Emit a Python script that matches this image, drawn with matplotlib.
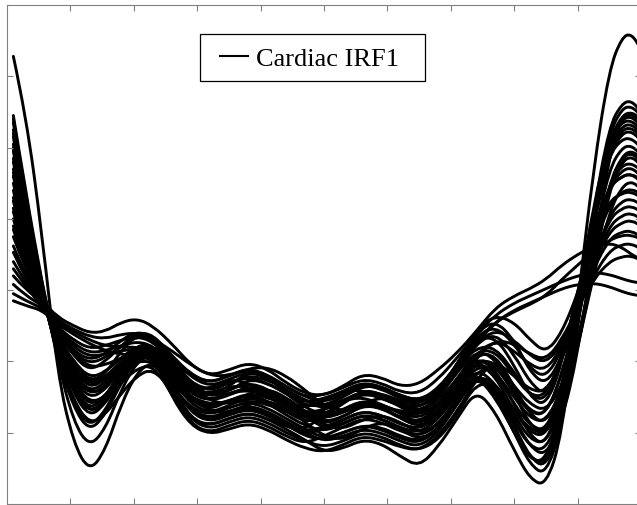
import matplotlib
matplotlib.use("Agg")
import matplotlib.pyplot as plt
from matplotlib.lines import Line2D
from matplotlib.patches import Rectangle, PathPatch
from matplotlib.path import Path

# shared abscissa (arbitrary units, 0..10 across the axes)
x_grid = [0.1, 0.3, 0.55, 0.8, 1.05, 1.3, 1.55, 1.8, 2.05, 2.3,
          2.6, 2.9, 3.2, 3.5, 3.8, 4.1, 4.4, 4.7, 5.0, 5.3, 5.6, 5.9, 6.2, 6.5, 6.8, 7.1,
          7.4, 7.7, 8.0, 8.25, 8.5, 8.75, 9.0, 9.25, 9.5, 9.7, 9.85, 10.0]

irf_00 = [3.28, 2.45, 0.8, -1.2, -2.15, -2.55, -2.25, -1.6, -1.15, -1.0,
          -1.35, -1.8, -1.9, -1.8, -1.72, -1.8, -1.95, -2.1, -2.27, -2.22, -2.1, -2.15, -2.33, -2.48, -2.2, -1.8,
          -1.4, -1.7, -2.25, -2.65, -2.75, -2.05, -0.2, 1.7, 3.1, 3.55, 3.6, 3.38]
irf_01 = [2.45, 1.35, 0.12, -1.0, -1.85, -2.2, -1.95, -1.4, -1.0, -0.9,
          -1.3, -1.7, -1.8, -1.7, -1.62, -1.7, -1.85, -2.0, -2.12, -2.05, -1.95, -2.0, -2.12, -2.2, -2.0, -1.6,
          -1.2, -1.45, -2.0, -2.45, -2.6, -1.9, -0.5, 1.1, 2.3, 2.62, 2.66, 2.5]
irf_02 = [2.35, 1.25, 0.02, -0.95, -1.65, -1.98, -1.75, -1.3, -0.95, -0.88,
          -1.1, -1.35, -1.55, -1.6, -1.45, -1.38, -1.5, -1.7, -1.9, -1.95, -1.82, -1.75, -1.85, -2.0, -1.9, -1.55,
          -1.15, -1.4, -1.9, -2.35, -2.5, -1.85, -0.55, 1.0, 2.2, 2.55, 2.58, 2.45]
irf_03 = [2.25, 1.15, -0.03, -0.9, -1.55, -1.88, -1.75, -1.45, -1.2, -1.1,
          -1.4, -1.82, -1.95, -1.85, -1.77, -1.85, -2.0, -2.12, -2.2, -2.12, -2.0, -2.05, -2.18, -2.25, -2.1, -1.75,
          -1.3, -1.35, -1.8, -2.2, -2.33, -1.85, -0.9, 0.5, 1.9, 2.42, 2.48, 2.35]
irf_04 = [2.15, 1.1, -0.03, -0.85, -1.45, -1.78, -1.6, -1.2, -0.9, -0.82,
          -1.1, -1.38, -1.5, -1.4, -1.3, -1.38, -1.55, -1.7, -1.8, -1.72, -1.6, -1.65, -1.78, -1.85, -1.65, -1.3,
          -0.95, -1.1, -1.6, -2.05, -2.18, -1.5, -0.15, 1.2, 2.1, 2.36, 2.38, 2.25]
irf_05 = [2.05, 1.0, -0.08, -0.85, -1.35, -1.62, -1.5, -1.15, -0.9, -0.85,
          -1.35, -1.65, -1.75, -1.65, -1.57, -1.65, -1.8, -1.95, -2.08, -2.0, -1.9, -1.95, -2.08, -2.15, -1.95, -1.55,
          -1.2, -1.5, -2.0, -2.38, -2.4, -1.65, -0.4, 0.9, 1.9, 2.2, 2.23, 2.1]
irf_06 = [1.95, 0.95, -0.03, -0.8, -1.4, -1.72, -1.55, -1.15, -0.85, -0.78,
          -0.95, -1.3, -1.5, -1.35, -1.15, -1.2, -1.45, -1.65, -1.75, -1.6, -1.4, -1.45, -1.65, -1.75, -1.5, -1.15,
          -0.85, -0.95, -1.45, -1.9, -2.03, -1.4, -0.1, 1.1, 1.9, 2.12, 2.13, 2.0]
irf_07 = [1.85, 0.9, -0.08, -0.75, -1.25, -1.52, -1.4, -1.1, -0.85, -0.8,
          -1.3, -1.55, -1.65, -1.55, -1.47, -1.55, -1.7, -1.85, -1.8, -1.67, -1.55, -1.6, -1.73, -1.8, -1.62, -1.3,
          -0.9, -0.9, -1.35, -1.75, -1.88, -1.4, -0.5, 0.7, 1.7, 2.0, 2.03, 1.9]
irf_08 = [1.7, 0.8, -0.08, -0.75, -1.2, -1.47, -1.35, -1.05, -0.8, -0.78,
          -1.15, -1.45, -1.55, -1.45, -1.37, -1.45, -1.6, -1.75, -1.95, -1.87, -1.75, -1.8, -1.93, -2.0, -1.82, -1.45,
          -1.1, -1.3, -1.75, -2.1, -2.15, -1.65, -0.85, 0.3, 1.4, 1.8, 1.88, 1.75]
irf_09 = [1.6, 0.75, -0.08, -0.8, -1.3, -1.58, -1.5, -1.3, -1.1, -1.05,
          -1.45, -1.88, -2.0, -1.9, -1.82, -1.9, -2.05, -2.15, -2.05, -1.92, -1.8, -1.85, -1.98, -2.05, -1.88, -1.55,
          -1.15, -1.05, -1.4, -1.7, -1.75, -1.2, -0.35, 0.65, 1.5, 1.75, 1.78, 1.68]
irf_10 = [1.5, 0.7, -0.13, -0.7, -1.1, -1.38, -1.25, -1.0, -0.78, -0.75,
          -1.15, -1.4, -1.38, -1.25, -1.3, -1.45, -1.6, -1.65, -1.55, -1.42, -1.4, -1.52, -1.62, -1.6, -1.4, -1.1,
          -0.7, -0.65, -1.05, -1.5, -1.63, -1.05, 0.0, 0.85, 1.45, 1.6, 1.63, 1.52]
irf_11 = [1.4, 0.6, -0.13, -0.68, -1.08, -1.33, -1.25, -1.1, -1.0, -1.0,
          -1.3, -1.72, -1.85, -1.75, -1.67, -1.75, -1.9, -2.02, -1.95, -1.82, -1.7, -1.75, -1.88, -1.95, -1.78, -1.45,
          -1.05, -1.15, -1.5, -1.8, -1.85, -1.4, -0.8, 0.2, 1.1, 1.45, 1.53, 1.42]
irf_12 = [1.25, 0.55, -0.13, -0.65, -1.02, -1.28, -1.18, -0.85, -0.62, -0.65,
          -0.95, -1.22, -1.35, -1.25, -1.15, -1.22, -1.4, -1.55, -1.67, -1.57, -1.45, -1.5, -1.63, -1.7, -1.52, -1.15,
          -0.75, -0.6, -0.9, -1.3, -1.48, -0.95, -0.05, 0.75, 1.25, 1.36, 1.38, 1.3]
irf_13 = [1.1, 0.45, -0.15, -0.65, -1.0, -1.23, -1.15, -0.95, -0.78, -0.8,
          -1.3, -1.5, -1.6, -1.58, -1.55, -1.6, -1.7, -1.78, -1.75, -1.68, -1.6, -1.62, -1.7, -1.72, -1.55, -1.25,
          -0.85, -0.85, -1.2, -1.48, -1.48, -1.0, -0.3, 0.4, 1.05, 1.25, 1.28, 1.2]
irf_14 = [1.0, 0.4, -0.15, -0.6, -0.92, -1.13, -1.0, -0.78, -0.6, -0.62,
          -0.92, -1.18, -1.3, -1.2, -1.1, -1.18, -1.35, -1.5, -1.57, -1.47, -1.33, -1.38, -1.52, -1.58, -1.4, -1.05,
          -0.6, -0.42, -0.7, -1.15, -1.33, -0.95, -0.25, 0.4, 1.0, 1.15, 1.18, 1.1]
irf_15 = [0.9, 0.35, -0.18, -0.62, -0.9, -1.08, -1.05, -0.95, -0.88, -0.92,
          -1.5, -1.9, -2.02, -1.95, -1.87, -1.95, -2.1, -2.22, -2.27, -2.17, -2.05, -2.1, -2.2, -2.25, -2.05, -1.7,
          -1.25, -1.0, -1.2, -1.4, -1.43, -1.0, -0.3, 0.35, 0.9, 1.05, 1.08, 1.0]
irf_16 = [0.75, 0.28, -0.18, -0.58, -0.85, -0.98, -0.9, -0.7, -0.58, -0.65,
          -1.1, -1.42, -1.55, -1.45, -1.37, -1.45, -1.58, -1.65, -1.55, -1.42, -1.3, -1.35, -1.48, -1.55, -1.38, -1.05,
          -0.65, -0.5, -0.75, -1.1, -1.23, -0.85, -0.2, 0.35, 0.82, 0.95, 0.98, 0.9]
irf_17 = [0.62, 0.2, -0.21, -0.6, -0.88, -1.03, -0.95, -0.78, -0.65, -0.68,
          -0.85, -1.05, -1.2, -1.2, -1.1, -1.08, -1.2, -1.4, -1.62, -1.7, -1.6, -1.5, -1.58, -1.72, -1.65, -1.3,
          -0.9, -0.7, -0.85, -1.05, -1.13, -0.8, -0.25, 0.3, 0.72, 0.82, 0.83, 0.75]
irf_18 = [0.53, 0.15, -0.21, -0.55, -0.8, -0.93, -0.9, -0.85, -0.82, -0.88,
          -1.45, -1.82, -1.9, -1.8, -1.72, -1.8, -1.92, -1.95, -1.75, -1.55, -1.42, -1.45, -1.58, -1.65, -1.48, -1.15,
          -0.75, -0.55, -0.7, -0.92, -1.03, -0.75, -0.25, 0.2, 0.55, 0.64, 0.65, 0.58]
irf_19 = [0.4, 0.1, -0.23, -0.55, -0.75, -0.88, -0.85, -0.78, -0.72, -0.78,
          -1.15, -1.45, -1.55, -1.45, -1.4, -1.48, -1.62, -1.75, -1.8, -1.7, -1.55, -1.62, -1.8, -1.92, -1.78, -1.4,
          -0.95, -0.7, -0.75, -0.9, -0.98, -0.7, -0.25, 0.15, 0.4, 0.47, 0.48, 0.42]
irf_20 = [0.3, 0.05, -0.23, -0.52, -0.7, -0.82, -0.78, -0.7, -0.65, -0.72,
          -1.0, -1.3, -1.4, -1.3, -1.22, -1.3, -1.45, -1.58, -1.52, -1.42, -1.3, -1.35, -1.48, -1.55, -1.4, -1.05,
          -0.55, -0.35, -0.45, -0.7, -0.88, -0.6, -0.05, 0.6, 1.2, 1.38, 1.42, 1.35]
irf_21 = [0.2, 0.0, -0.15, -0.38, -0.5, -0.6, -0.58, -0.45, -0.4, -0.5,
          -0.75, -1.05, -1.2, -1.12, -1.02, -1.1, -1.3, -1.45, -1.48, -1.35, -1.18, -1.22, -1.35, -1.32, -1.12, -0.88,
          -0.58, -0.25, -0.08, 0.02, 0.15, 0.35, 0.5, 0.62, 0.66, 0.6, 0.5, 0.43]
irf_22 = [0.08, -0.08, -0.21, -0.42, -0.55, -0.65, -0.68, -0.62, -0.6, -0.66,
          -0.95, -1.2, -1.3, -1.2, -1.12, -1.2, -1.35, -1.5, -1.47, -1.37, -1.25, -1.3, -1.43, -1.45, -1.25, -0.95,
          -0.62, -0.35, -0.18, -0.08, 0.02, 0.12, 0.2, 0.25, 0.22, 0.16, 0.12, 0.1]
irf_23 = [-0.05, -0.15, -0.25, -0.45, -0.58, -0.7, -0.78, -0.8, -0.8, -0.85,
          -1.1, -1.3, -1.5, -1.42, -1.25, -1.3, -1.45, -1.62, -1.62, -1.5, -1.35, -1.35, -1.5, -1.58, -1.4, -1.05,
          -0.72, -0.45, -0.28, -0.18, -0.08, 0.02, 0.08, 0.1, 0.05, -0.02, -0.06, -0.08]
irf_24 = [-0.15, -0.22, -0.28, -0.48, -0.62, -0.75, -0.85, -0.9, -0.92, -0.98,
          -1.25, -1.52, -1.62, -1.55, -1.47, -1.55, -1.7, -1.82, -1.67, -1.57, -1.45, -1.5, -1.63, -1.65, -1.45, -1.12,
          -0.75, -0.45, -0.3, -0.2, -0.08, 0.15, 0.35, 0.55, 0.7, 0.77, 0.77, 0.72]
irf_25 = [1.8, 0.85, -0.05, -0.8, -1.38, -1.68, -1.5, -1.12, -0.88, -0.85,
          -1.2, -1.55, -1.68, -1.55, -1.45, -1.5, -1.62, -1.78, -1.88, -1.78, -1.62, -1.6, -1.72, -1.88, -1.75, -1.35,
          -1.0, -1.15, -1.6, -1.9, -1.98, -1.4, -0.35, 0.9, 2.0, 2.3, 2.33, 2.2]
irf_26 = [1.3, 0.55, -0.11, -0.7, -1.15, -1.43, -1.3, -1.02, -0.82, -0.8,
          -1.38, -1.68, -1.8, -1.7, -1.62, -1.7, -1.85, -1.98, -1.92, -1.82, -1.7, -1.75, -1.88, -1.95, -1.78, -1.42,
          -1.0, -1.0, -1.35, -1.6, -1.7, -1.35, -0.75, 0.4, 1.45, 1.85, 1.93, 1.8]
irf_27 = [2.0, 0.98, -0.01, -0.9, -1.6, -1.92, -1.7, -1.25, -0.95, -0.9,
          -1.2, -1.5, -1.7, -1.72, -1.6, -1.55, -1.65, -1.85, -2.05, -2.1, -1.95, -1.85, -1.95, -2.1, -1.95, -1.6,
          -1.2, -1.35, -1.85, -2.2, -2.25, -1.7, -0.5, 0.95, 2.05, 2.4, 2.44, 2.3]
irf_28 = [1.65, 0.78, -0.05, -0.85, -1.42, -1.72, -1.6, -1.25, -0.98, -0.92,
          -1.25, -1.6, -1.72, -1.62, -1.5, -1.58, -1.75, -1.9, -1.98, -1.88, -1.75, -1.8, -1.95, -2.05, -1.9, -1.5,
          -1.15, -1.45, -2.0, -2.35, -2.45, -1.7, -0.35, 0.95, 1.95, 2.25, 2.28, 2.15]
irf_29 = [2.2, 1.1, 0.02, -0.72, -1.2, -1.45, -1.38, -1.08, -0.82, -0.78,
          -1.05, -1.3, -1.42, -1.3, -1.2, -1.25, -1.4, -1.55, -1.62, -1.55, -1.42, -1.45, -1.55, -1.6, -1.42, -1.1,
          -0.8, -0.8, -1.15, -1.48, -1.55, -1.0, 0.0, 0.8, 1.45, 1.6, 1.63, 1.55]
irf_30 = [1.15, 0.48, -0.11, -0.78, -1.3, -1.6, -1.5, -1.2, -0.95, -0.92,
          -1.35, -1.7, -1.82, -1.72, -1.65, -1.72, -1.88, -2.05, -2.1, -2.0, -1.9, -1.92, -2.05, -2.12, -1.95, -1.6,
          -1.2, -1.3, -1.7, -1.95, -2.02, -1.6, -0.8, 0.45, 1.5, 1.88, 1.96, 1.85]
irf_31 = [0.85, 0.32, -0.15, -0.7, -1.1, -1.3, -1.22, -1.0, -0.82, -0.82,
          -1.15, -1.4, -1.45, -1.35, -1.35, -1.45, -1.62, -1.72, -1.68, -1.55, -1.5, -1.6, -1.72, -1.75, -1.6, -1.3,
          -0.95, -1.05, -1.45, -1.72, -1.75, -1.2, -0.3, 0.65, 1.45, 1.68, 1.72, 1.6]
irf_32 = [2.4, 1.3, 0.07, -0.8, -1.35, -1.6, -1.5, -1.18, -0.92, -0.88,
          -1.2, -1.45, -1.55, -1.48, -1.35, -1.4, -1.58, -1.75, -1.85, -1.78, -1.62, -1.65, -1.8, -1.88, -1.7, -1.35,
          -1.0, -1.2, -1.7, -2.0, -2.05, -1.5, -0.45, 0.95, 2.1, 2.45, 2.5, 2.4]

curves = [irf_00, irf_01, irf_02, irf_03, irf_04, irf_05, irf_06, irf_07, irf_08,
          irf_09, irf_10, irf_11, irf_12, irf_13, irf_14, irf_15, irf_16, irf_17,
          irf_18, irf_19, irf_20, irf_21, irf_22, irf_23, irf_24, irf_25, irf_26,
          irf_27, irf_28, irf_29, irf_30, irf_31, irf_32]

x_ticks = [1, 2, 3, 4, 5, 6, 7, 8, 9]
y_ticks = [-2, -1, 0, 1, 2, 3]
legend_label = "Cardiac IRF1"


def smooth_path(xs, ys):
    """Quadratic-Bezier path using the sample points as control points."""
    verts = [(xs[0], ys[0])]
    codes = [Path.MOVETO]
    for i in range(1, len(xs) - 1):
        verts.append((xs[i], ys[i]))
        verts.append(((xs[i] + xs[i + 1]) / 2, (ys[i] + ys[i + 1]) / 2))
        codes += [Path.CURVE3, Path.CURVE3]
    verts.append((xs[-1], ys[-1]))
    codes.append(Path.LINETO)
    return Path(verts, codes)


W, H = 637, 506
fig = plt.figure(figsize=(W / 100, H / 100), dpi=100)
ax = fig.add_axes([7 / W, 1 / H, 634 / W, 499 / H])

for c in curves:
    patch = PathPatch(smooth_path(x_grid[:len(c)], c), facecolor="none",
                      edgecolor="black", lw=2.1, capstyle="round",
                      joinstyle="round")
    ax.add_patch(patch)

ax.set_xlim(0, 10)
ax.set_ylim(-3, 4)
ax.set_xticks(x_ticks)
ax.set_yticks(y_ticks)
ax.set_xticklabels([])
ax.set_yticklabels([])
ax.tick_params(direction="in", length=4.3, width=0.8, color="#808080",
               top=True, right=True, bottom=True, left=True)
for s in ax.spines.values():
    s.set_color("#808080")
    s.set_linewidth(0.8)

# legend frame (box) and frameless legend entry
ax.add_patch(Rectangle((0.3044, 0.8477), 0.3549, 0.0942, transform=ax.transAxes,
                       facecolor="white", edgecolor="black", lw=0.9, zorder=5))
handle = Line2D([], [], color="black", lw=1.5)
leg = ax.legend([handle], [legend_label], loc="center left",
                bbox_to_anchor=(0.336, 0.893), frameon=False, borderpad=0,
                borderaxespad=0, handlelength=1.06, handletextpad=0.3,
                prop={"family": "Liberation Serif", "size": 19})
leg.set_zorder(6)

fig.savefig("out.png", dpi=100)
